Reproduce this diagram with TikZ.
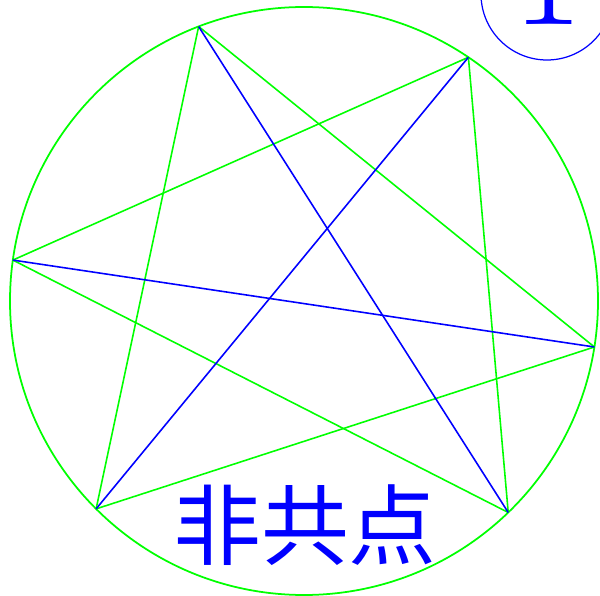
\documentclass[tikz,border=0pt]{standalone}
\usepackage{fontspec}
\newfontfamily\cjk{Noto Sans CJK SC}
\usetikzlibrary{calc}
\tikzset{
  every picture/.style={line width=0.8pt},
  rim/.style={draw=green, line width=1pt},
  chord/.style={draw=green, line width=0.9pt},
  diag/.style={draw=blue, line width=0.9pt},
  title/.style={text=blue, font=\cjk\fontsize{50}{60}\selectfont, inner sep=0pt},
  tag/.style={text=blue, font=\fontsize{88}{100}\selectfont, inner sep=0pt},
}

\begin{document}
\begin{tikzpicture}[x=0.02cm, y=0.02cm]
  \useasboundingbox (0,0) rectangle (600,596);
  \coordinate (o) at (304,295);
  \draw[rim] (o) circle (294);
  % six points on the rim
  \coordinate (a) at ($(o)+(111:294)$);
  \coordinate (b) at ($(o)+(56:294)$);
  \coordinate (c) at ($(o)+(-9:294)$);
  \coordinate (d) at ($(o)+(-46:294)$);
  \coordinate (e) at ($(o)+(225:294)$);
  \coordinate (f) at ($(o)+(172:294)$);
  % sides of the star
  \draw[chord] (a) -- (e);
  \draw[chord] (a) -- (c);
  \draw[chord] (b) -- (f);
  \draw[chord] (b) -- (d);
  \draw[chord] (f) -- (d);
  \draw[chord] (e) -- (c);
  % the three diagonals
  \draw[diag] (a) -- (d);
  \draw[diag] (b) -- (e);
  \draw[diag] (f) -- (c);
  \node[title] (label) at (305,71) {非共点};
  % corner badge
  \draw[blue, line width=0.7pt] (547,602) circle (66);
  \node[tag, anchor=base] (one) at (548,571) {1};
\end{tikzpicture}
\end{document}
